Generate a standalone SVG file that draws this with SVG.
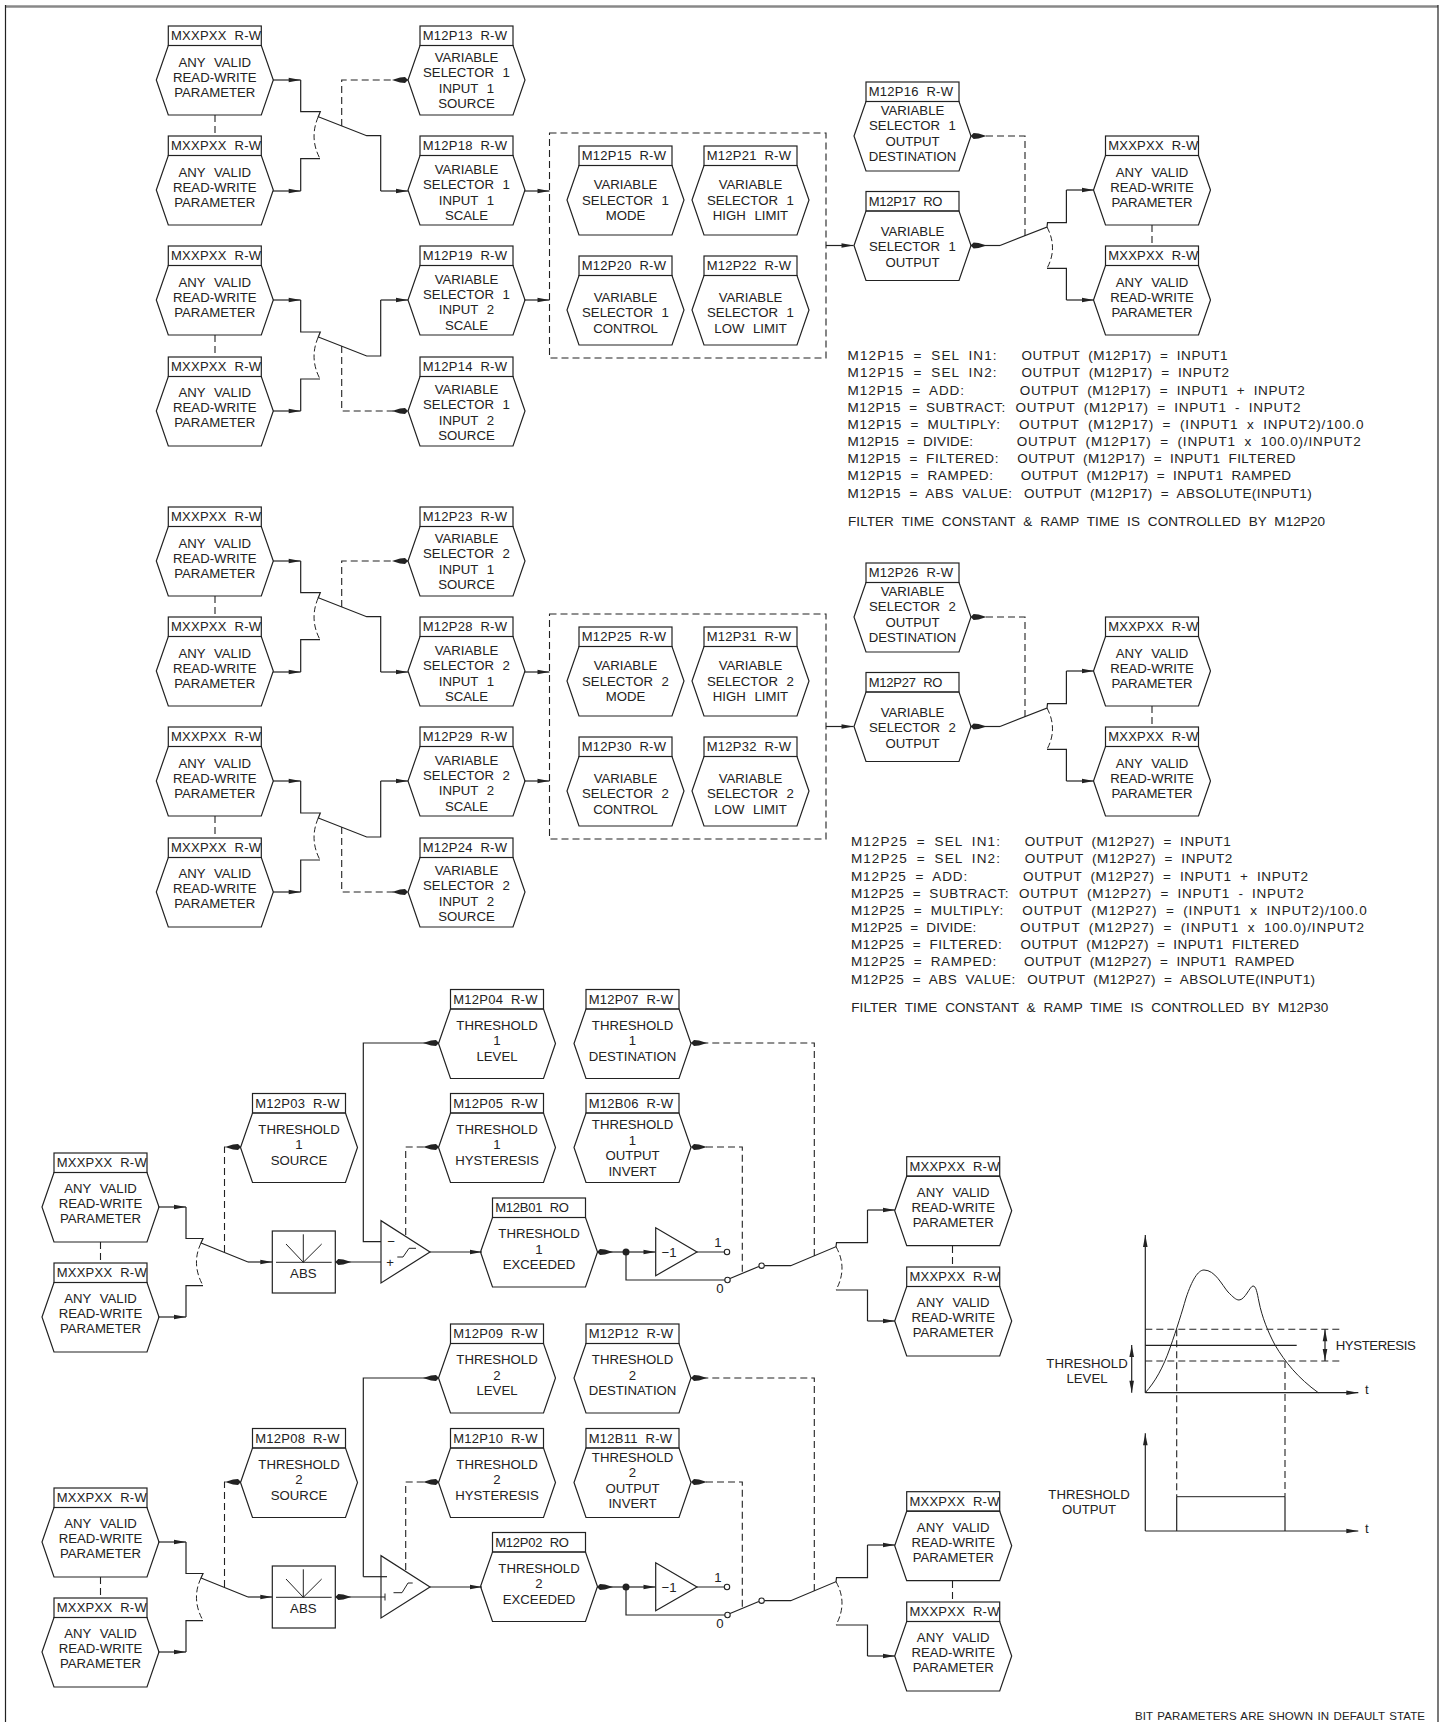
<svg xmlns="http://www.w3.org/2000/svg" width="1445" height="1722" viewBox="0 0 1445 1722">
<style>
text{font-family:"Liberation Sans",Arial,sans-serif;fill:#222}
.h{font-size:13px;letter-spacing:.25px;word-spacing:4px}
.b{font-size:13.2px;word-spacing:5px;text-anchor:middle}
.l{font-size:13.2px;word-spacing:4px}
.n{font-size:13.5px;word-spacing:4px}
.f{font-size:11.5px;word-spacing:1px}
.shape{fill:none;stroke:#222;stroke-width:1.2}
.s{fill:none;stroke:#222;stroke-width:1.2}
.d{fill:none;stroke:#222;stroke-width:1.1;stroke-dasharray:7 4}
.t{fill:none;stroke:#222;stroke-width:1}
.a{marker-end:url(#arr)}
.k{marker-end:url(#kite)}
.o{fill:#fff;stroke:#222;stroke-width:1.1}
</style>
<defs>
<marker id="arr" viewBox="-14 -4 15 8" refX="0" refY="0" markerWidth="15" markerHeight="8" markerUnits="userSpaceOnUse" orient="auto-start-reverse"><path d="M0,0L-12,-2.3L-12,2.3Z" fill="#222"/></marker>
<marker id="kite" viewBox="-17 -4 18 8" refX="0" refY="0" markerWidth="18" markerHeight="8" markerUnits="userSpaceOnUse" orient="auto"><path d="M0,0L-3,-3L-8,-2.6L-16,0L-8,2.6L-3,3Z" fill="#222"/></marker>
<g id="hex"><rect class="shape" x="0" y="0" width="93" height="19.5"/><path class="shape" d="M0,19.5H93L105,54L93,89H0L-12,54Z"/></g>
</defs>
<rect width="1445" height="1722" fill="#fff"/>
<g id="frame"><path d="M5,6.5H1438" fill="none" stroke="#888" stroke-width="2.5"/><path d="M5.5,5V1722M1438,5V1722" fill="none" stroke="#222" stroke-width="1.2"/></g>

<g id="connectors">
<g id="conn-vs1">
<path class="s a" d="M273,80H300.7"/><path class="s" d="M300.7,80V111.7H320.3L318.3,116.7L366.7,135.7H380.7V191"/><path class="s a" d="M380.7,191H408"/>
<path class="s a" d="M273,191H300.7"/><path class="s" d="M300.7,191V158.7H320"/><path class="t" stroke-dasharray="6 3" d="M318.3,116.7Q309,138 320,158.7"/>
<path class="s a" d="M273,300H300.7"/><path class="s" d="M300.7,300V332H320.3L318.3,337L366.7,356H380.7V300"/><path class="s a" d="M380.7,300H408"/>
<path class="s a" d="M273,411H300.7"/><path class="s" d="M300.7,411V379H320"/><path class="t" stroke-dasharray="6 3" d="M318.3,337Q309,358 320,379"/>
<path class="d k" d="M341.7,126V80H408"/><path class="d k" d="M341.7,346V411H408"/>
<path class="d" d="M215,115V136M215,335V357M1152,225V246"/>
<path class="s a" d="M524,191H549.5"/><path class="s a" d="M524,300H549.5"/>
<rect class="d" x="549.5" y="133" width="276.5" height="225"/>
<path class="s a" d="M826,245.5H853.5"/>
<path class="s k" d="M1000,245.5H970.6"/><path class="s" d="M1000,245.5L1047,227L1047.5,222.7H1066.4V190"/><path class="s a" d="M1066.4,190H1094"/>
<path class="s" d="M1047,268.3H1066.4V300"/><path class="s a" d="M1066.4,300H1094"/><path class="t" stroke-dasharray="6 3" d="M1047,227Q1058,248 1047,268.3"/>
<path class="d k" d="M1025,236V136H970.6"/>
</g>
<g id="conn-vs2" transform="translate(0,481)">
<path class="s a" d="M273,80H300.7"/><path class="s" d="M300.7,80V111.7H320.3L318.3,116.7L366.7,135.7H380.7V191"/><path class="s a" d="M380.7,191H408"/>
<path class="s a" d="M273,191H300.7"/><path class="s" d="M300.7,191V158.7H320"/><path class="t" stroke-dasharray="6 3" d="M318.3,116.7Q309,138 320,158.7"/>
<path class="s a" d="M273,300H300.7"/><path class="s" d="M300.7,300V332H320.3L318.3,337L366.7,356H380.7V300"/><path class="s a" d="M380.7,300H408"/>
<path class="s a" d="M273,411H300.7"/><path class="s" d="M300.7,411V379H320"/><path class="t" stroke-dasharray="6 3" d="M318.3,337Q309,358 320,379"/>
<path class="d k" d="M341.7,126V80H408"/><path class="d k" d="M341.7,346V411H408"/>
<path class="d" d="M215,115V136M215,335V357M1152,225V246"/>
<path class="s a" d="M524,191H549.5"/><path class="s a" d="M524,300H549.5"/>
<rect class="d" x="549.5" y="133" width="276.5" height="225"/>
<path class="s a" d="M826,245.5H853.5"/>
<path class="s k" d="M1000,245.5H970.6"/><path class="s" d="M1000,245.5L1047,227L1047.5,222.7H1066.4V190"/><path class="s a" d="M1066.4,190H1094"/>
<path class="s" d="M1047,268.3H1066.4V300"/><path class="s a" d="M1066.4,300H1094"/><path class="t" stroke-dasharray="6 3" d="M1047,227Q1058,248 1047,268.3"/>
<path class="d k" d="M1025,236V136H970.6"/>
</g>
<g id="conn-th1">
<path class="s a" d="M158,1207H186"/><path class="s" d="M186,1207V1238.5H203L201,1243L248,1262"/><path class="s a" d="M248,1262H272.3"/>
<path class="s a" d="M158,1317H186"/><path class="s" d="M186,1317V1285.6H203"/><path class="t" stroke-dasharray="6 3" d="M201,1243Q191,1264 203,1285.6"/>
<path class="d k" d="M224.5,1252V1147H241"/>
<path class="d" d="M100.5,1242V1263M952.5,1246V1267"/>
<path class="s k" d="M381,1262H335.3"/>
<path class="s k" d="M381,1241.7H363.3V1043H439"/>
<path class="d k" d="M405.7,1235V1147H439"/>
<path class="s a" d="M430,1252H482"/>
<path class="s k" d="M626,1252H597"/><path class="s a" d="M626,1252H655.5"/>
<path class="s" d="M626,1252V1280H725M697,1252H724.5M730,1278.5L758.8,1266.5"/>
<path class="s" d="M764.3,1265.7H790.7L836,1246.7L836.5,1242.7H867.5V1210"/><path class="s a" d="M867.5,1210H895"/>
<path class="s" d="M836,1290H867.5V1321"/><path class="s a" d="M867.5,1321H895"/><path class="t" stroke-dasharray="6 3" d="M836,1246.7Q848,1268 836,1290"/>
<path class="d k" d="M814.3,1256V1043H691"/><path class="d k" d="M742.3,1271.7V1147H691"/>
</g>
<g id="conn-th2">
<path class="s a" d="M158,1542H186"/><path class="s" d="M186,1542V1573.5H203L201,1578L248,1597"/><path class="s a" d="M248,1597H272.3"/>
<path class="s a" d="M158,1652H186"/><path class="s" d="M186,1652V1620.6H203"/><path class="t" stroke-dasharray="6 3" d="M201,1578Q191,1599 203,1620.6"/>
<path class="d k" d="M224.5,1587V1482H241"/>
<path class="d" d="M100.5,1577V1598M952.5,1581V1602"/>
<path class="s k" d="M385,1597H335.3"/><path class="t" d="M385,1593.5V1600.5"/>
<path class="s" d="M387,1576.7H363.3"/><path class="s k" d="M363.3,1576.7V1378H439"/>
<path class="d k" d="M405.7,1570V1482H439"/>
<path class="s a" d="M430,1587H482"/>
<path class="s k" d="M626,1587H597"/><path class="s a" d="M626,1587H655.5"/>
<path class="s" d="M626,1587V1615H725M697,1587H724.5M730,1613.5L758.8,1601.5"/>
<path class="s" d="M764.3,1600.7H790.7L836,1581.7L836.5,1577.7H867.5V1545"/><path class="s a" d="M867.5,1545H895"/>
<path class="s" d="M836,1625H867.5V1656"/><path class="s a" d="M867.5,1656H895"/><path class="t" stroke-dasharray="6 3" d="M836,1581.7Q848,1603 836,1625"/>
<path class="d k" d="M814.3,1591V1378H691"/><path class="d k" d="M742.3,1606.7V1482H691"/>
</g>
</g>

<g id="node-a1" transform="translate(168.3,26)"><use href="#hex"/><text class="h" x="2.7" y="14">MXXPXX R-W</text><text class="b" x="46.5" y="41">ANY VALID</text><text class="b" x="46.5" y="56">READ-WRITE</text><text class="b" x="46.5" y="71">PARAMETER</text></g>
<g id="node-a2" transform="translate(168.3,136)"><use href="#hex"/><text class="h" x="2.7" y="14">MXXPXX R-W</text><text class="b" x="46.5" y="41">ANY VALID</text><text class="b" x="46.5" y="56">READ-WRITE</text><text class="b" x="46.5" y="71">PARAMETER</text></g>
<g id="node-a3" transform="translate(168.3,246)"><use href="#hex"/><text class="h" x="2.7" y="14">MXXPXX R-W</text><text class="b" x="46.5" y="41">ANY VALID</text><text class="b" x="46.5" y="56">READ-WRITE</text><text class="b" x="46.5" y="71">PARAMETER</text></g>
<g id="node-a4" transform="translate(168.3,357)"><use href="#hex"/><text class="h" x="2.7" y="14">MXXPXX R-W</text><text class="b" x="46.5" y="40">ANY VALID</text><text class="b" x="46.5" y="55">READ-WRITE</text><text class="b" x="46.5" y="70">PARAMETER</text></g>
<g id="node-m12p13" transform="translate(420,26)"><use href="#hex"/><text class="h" x="2.7" y="14">M12P13 R-W</text><text class="b" x="46.5" y="35.7">VARIABLE</text><text class="b" x="46.5" y="51.3">SELECTOR 1</text><text class="b" x="46.5" y="66.7">INPUT 1</text><text class="b" x="46.5" y="82.3">SOURCE</text></g>
<g id="node-m12p18" transform="translate(420,136)"><use href="#hex"/><text class="h" x="2.7" y="14">M12P18 R-W</text><text class="b" x="46.5" y="38">VARIABLE</text><text class="b" x="46.5" y="53">SELECTOR 1</text><text class="b" x="46.5" y="68.5">INPUT 1</text><text class="b" x="46.5" y="83.7">SCALE</text></g>
<g id="node-m12p19" transform="translate(420,246)"><use href="#hex"/><text class="h" x="2.7" y="14">M12P19 R-W</text><text class="b" x="46.5" y="37.5">VARIABLE</text><text class="b" x="46.5" y="53">SELECTOR 1</text><text class="b" x="46.5" y="68">INPUT 2</text><text class="b" x="46.5" y="83.7">SCALE</text></g>
<g id="node-m12p14" transform="translate(420,357)"><use href="#hex"/><text class="h" x="2.7" y="14">M12P14 R-W</text><text class="b" x="46.5" y="37">VARIABLE</text><text class="b" x="46.5" y="52">SELECTOR 1</text><text class="b" x="46.5" y="67.5">INPUT 2</text><text class="b" x="46.5" y="82.7">SOURCE</text></g>
<g id="node-m12p15" transform="translate(579,146)"><use href="#hex"/><text class="h" x="2.7" y="14">M12P15 R-W</text><text class="b" x="46.5" y="43">VARIABLE</text><text class="b" x="46.5" y="59">SELECTOR 1</text><text class="b" x="46.5" y="74">MODE</text></g>
<g id="node-m12p21" transform="translate(704,146)"><use href="#hex"/><text class="h" x="2.7" y="14">M12P21 R-W</text><text class="b" x="46.5" y="43">VARIABLE</text><text class="b" x="46.5" y="59">SELECTOR 1</text><text class="b" x="46.5" y="74">HIGH LIMIT</text></g>
<g id="node-m12p20" transform="translate(579,256)"><use href="#hex"/><text class="h" x="2.7" y="14">M12P20 R-W</text><text class="b" x="46.5" y="46">VARIABLE</text><text class="b" x="46.5" y="61">SELECTOR 1</text><text class="b" x="46.5" y="77">CONTROL</text></g>
<g id="node-m12p22" transform="translate(704,256)"><use href="#hex"/><text class="h" x="2.7" y="14">M12P22 R-W</text><text class="b" x="46.5" y="46">VARIABLE</text><text class="b" x="46.5" y="61">SELECTOR 1</text><text class="b" x="46.5" y="77">LOW LIMIT</text></g>
<g id="node-m12p16" transform="translate(866,82)"><use href="#hex"/><text class="h" x="2.7" y="14">M12P16 R-W</text><text class="b" x="46.5" y="33">VARIABLE</text><text class="b" x="46.5" y="48">SELECTOR 1</text><text class="b" x="46.5" y="64">OUTPUT</text><text class="b" x="46.5" y="79">DESTINATION</text></g>
<g id="node-m12p17" transform="translate(866,191.5)"><use href="#hex"/><text class="h" x="2.7" y="14" textLength="74">M12P17 RO</text><text class="b" x="46.5" y="44.5">VARIABLE</text><text class="b" x="46.5" y="59.5">SELECTOR 1</text><text class="b" x="46.5" y="75">OUTPUT</text></g>
<g id="node-a5" transform="translate(1105.5,136)"><use href="#hex"/><text class="h" x="2.7" y="14">MXXPXX R-W</text><text class="b" x="46.5" y="41">ANY VALID</text><text class="b" x="46.5" y="56">READ-WRITE</text><text class="b" x="46.5" y="71">PARAMETER</text></g>
<g id="node-a6" transform="translate(1105.5,246)"><use href="#hex"/><text class="h" x="2.7" y="14">MXXPXX R-W</text><text class="b" x="46.5" y="41">ANY VALID</text><text class="b" x="46.5" y="56">READ-WRITE</text><text class="b" x="46.5" y="71">PARAMETER</text></g>

<g id="node-b1" transform="translate(168.3,507)"><use href="#hex"/><text class="h" x="2.7" y="14">MXXPXX R-W</text><text class="b" x="46.5" y="41">ANY VALID</text><text class="b" x="46.5" y="56">READ-WRITE</text><text class="b" x="46.5" y="71">PARAMETER</text></g>
<g id="node-b2" transform="translate(168.3,617)"><use href="#hex"/><text class="h" x="2.7" y="14">MXXPXX R-W</text><text class="b" x="46.5" y="41">ANY VALID</text><text class="b" x="46.5" y="56">READ-WRITE</text><text class="b" x="46.5" y="71">PARAMETER</text></g>
<g id="node-b3" transform="translate(168.3,727)"><use href="#hex"/><text class="h" x="2.7" y="14">MXXPXX R-W</text><text class="b" x="46.5" y="41">ANY VALID</text><text class="b" x="46.5" y="56">READ-WRITE</text><text class="b" x="46.5" y="71">PARAMETER</text></g>
<g id="node-b4" transform="translate(168.3,838)"><use href="#hex"/><text class="h" x="2.7" y="14">MXXPXX R-W</text><text class="b" x="46.5" y="40">ANY VALID</text><text class="b" x="46.5" y="55">READ-WRITE</text><text class="b" x="46.5" y="70">PARAMETER</text></g>
<g id="node-m12p23" transform="translate(420,507)"><use href="#hex"/><text class="h" x="2.7" y="14">M12P23 R-W</text><text class="b" x="46.5" y="35.7">VARIABLE</text><text class="b" x="46.5" y="51.3">SELECTOR 2</text><text class="b" x="46.5" y="66.7">INPUT 1</text><text class="b" x="46.5" y="82.3">SOURCE</text></g>
<g id="node-m12p28" transform="translate(420,617)"><use href="#hex"/><text class="h" x="2.7" y="14">M12P28 R-W</text><text class="b" x="46.5" y="38">VARIABLE</text><text class="b" x="46.5" y="53">SELECTOR 2</text><text class="b" x="46.5" y="68.5">INPUT 1</text><text class="b" x="46.5" y="83.7">SCALE</text></g>
<g id="node-m12p29" transform="translate(420,727)"><use href="#hex"/><text class="h" x="2.7" y="14">M12P29 R-W</text><text class="b" x="46.5" y="37.5">VARIABLE</text><text class="b" x="46.5" y="53">SELECTOR 2</text><text class="b" x="46.5" y="68">INPUT 2</text><text class="b" x="46.5" y="83.7">SCALE</text></g>
<g id="node-m12p24" transform="translate(420,838)"><use href="#hex"/><text class="h" x="2.7" y="14">M12P24 R-W</text><text class="b" x="46.5" y="37">VARIABLE</text><text class="b" x="46.5" y="52">SELECTOR 2</text><text class="b" x="46.5" y="67.5">INPUT 2</text><text class="b" x="46.5" y="82.7">SOURCE</text></g>
<g id="node-m12p25" transform="translate(579,627)"><use href="#hex"/><text class="h" x="2.7" y="14">M12P25 R-W</text><text class="b" x="46.5" y="43">VARIABLE</text><text class="b" x="46.5" y="59">SELECTOR 2</text><text class="b" x="46.5" y="74">MODE</text></g>
<g id="node-m12p31" transform="translate(704,627)"><use href="#hex"/><text class="h" x="2.7" y="14">M12P31 R-W</text><text class="b" x="46.5" y="43">VARIABLE</text><text class="b" x="46.5" y="59">SELECTOR 2</text><text class="b" x="46.5" y="74">HIGH LIMIT</text></g>
<g id="node-m12p30" transform="translate(579,737)"><use href="#hex"/><text class="h" x="2.7" y="14">M12P30 R-W</text><text class="b" x="46.5" y="46">VARIABLE</text><text class="b" x="46.5" y="61">SELECTOR 2</text><text class="b" x="46.5" y="77">CONTROL</text></g>
<g id="node-m12p32" transform="translate(704,737)"><use href="#hex"/><text class="h" x="2.7" y="14">M12P32 R-W</text><text class="b" x="46.5" y="46">VARIABLE</text><text class="b" x="46.5" y="61">SELECTOR 2</text><text class="b" x="46.5" y="77">LOW LIMIT</text></g>
<g id="node-m12p26" transform="translate(866,563)"><use href="#hex"/><text class="h" x="2.7" y="14">M12P26 R-W</text><text class="b" x="46.5" y="33">VARIABLE</text><text class="b" x="46.5" y="48">SELECTOR 2</text><text class="b" x="46.5" y="64">OUTPUT</text><text class="b" x="46.5" y="79">DESTINATION</text></g>
<g id="node-m12p27" transform="translate(866,672.5)"><use href="#hex"/><text class="h" x="2.7" y="14" textLength="74">M12P27 RO</text><text class="b" x="46.5" y="44.5">VARIABLE</text><text class="b" x="46.5" y="59.5">SELECTOR 2</text><text class="b" x="46.5" y="75">OUTPUT</text></g>
<g id="node-b5" transform="translate(1105.5,617)"><use href="#hex"/><text class="h" x="2.7" y="14">MXXPXX R-W</text><text class="b" x="46.5" y="41">ANY VALID</text><text class="b" x="46.5" y="56">READ-WRITE</text><text class="b" x="46.5" y="71">PARAMETER</text></g>
<g id="node-b6" transform="translate(1105.5,727)"><use href="#hex"/><text class="h" x="2.7" y="14">MXXPXX R-W</text><text class="b" x="46.5" y="41">ANY VALID</text><text class="b" x="46.5" y="56">READ-WRITE</text><text class="b" x="46.5" y="71">PARAMETER</text></g>

<g id="notes-vs1" transform="translate(0,-1)">
<text class="n" y="361"><tspan x="847.6" textLength="149">M12P15 = SEL IN1:</tspan><tspan x="1021.5" textLength="206">OUTPUT (M12P17) = INPUT1</tspan></text>
<text class="n" y="378.3"><tspan x="847.6" textLength="149">M12P15 = SEL IN2:</tspan><tspan x="1021.5" textLength="207.5">OUTPUT (M12P17) = INPUT2</tspan></text>
<text class="n" y="395.7"><tspan x="847.6" textLength="116.4">M12P15 = ADD:</tspan><tspan x="1019.8" textLength="285">OUTPUT (M12P17) = INPUT1 + INPUT2</tspan></text>
<text class="n" y="413"><tspan x="847.6" textLength="157.7">M12P15 = SUBTRACT:</tspan><tspan x="1015.6" textLength="284.8">OUTPUT (M12P17) = INPUT1 - INPUT2</tspan></text>
<text class="n" y="430.3"><tspan x="847.6" textLength="152.4">M12P15 = MULTIPLY:</tspan><tspan x="1019" textLength="344.4">OUTPUT (M12P17) = (INPUT1 x INPUT2)/100.0</tspan></text>
<text class="n" y="447.3"><tspan x="847.6" textLength="125.4">M12P15 = DIVIDE:</tspan><tspan x="1016.7" textLength="344">OUTPUT (M12P17) = (INPUT1 x 100.0)/INPUT2</tspan></text>
<text class="n" y="464.3"><tspan x="847.6" textLength="150.8">M12P15 = FILTERED:</tspan><tspan x="1017.3" textLength="278.3">OUTPUT (M12P17) = INPUT1 FILTERED</tspan></text>
<text class="n" y="481.3"><tspan x="847.6" textLength="145.4">M12P15 = RAMPED:</tspan><tspan x="1020.8" textLength="270.2">OUTPUT (M12P17) = INPUT1 RAMPED</tspan></text>
<text class="n" y="498.7"><tspan x="847.6" textLength="164.4">M12P15 = ABS VALUE:</tspan><tspan x="1024" textLength="287.8">OUTPUT (M12P17) = ABSOLUTE(INPUT1)</tspan></text>
<text class="n" x="848" y="527" textLength="477">FILTER TIME CONSTANT &amp; RAMP TIME IS CONTROLLED BY M12P20</text>
</g>
<g id="notes-vs2" transform="translate(3.3,485)">
<text class="n" y="361"><tspan x="847.6" textLength="149">M12P25 = SEL IN1:</tspan><tspan x="1021.5" textLength="206">OUTPUT (M12P27) = INPUT1</tspan></text>
<text class="n" y="378.3"><tspan x="847.6" textLength="149">M12P25 = SEL IN2:</tspan><tspan x="1021.5" textLength="207.5">OUTPUT (M12P27) = INPUT2</tspan></text>
<text class="n" y="395.7"><tspan x="847.6" textLength="116.4">M12P25 = ADD:</tspan><tspan x="1019.8" textLength="285">OUTPUT (M12P27) = INPUT1 + INPUT2</tspan></text>
<text class="n" y="413"><tspan x="847.6" textLength="157.7">M12P25 = SUBTRACT:</tspan><tspan x="1015.6" textLength="284.8">OUTPUT (M12P27) = INPUT1 - INPUT2</tspan></text>
<text class="n" y="430.3"><tspan x="847.6" textLength="152.4">M12P25 = MULTIPLY:</tspan><tspan x="1019" textLength="344.4">OUTPUT (M12P27) = (INPUT1 x INPUT2)/100.0</tspan></text>
<text class="n" y="447.3"><tspan x="847.6" textLength="125.4">M12P25 = DIVIDE:</tspan><tspan x="1016.7" textLength="344">OUTPUT (M12P27) = (INPUT1 x 100.0)/INPUT2</tspan></text>
<text class="n" y="464.3"><tspan x="847.6" textLength="150.8">M12P25 = FILTERED:</tspan><tspan x="1017.3" textLength="278.3">OUTPUT (M12P27) = INPUT1 FILTERED</tspan></text>
<text class="n" y="481.3"><tspan x="847.6" textLength="145.4">M12P25 = RAMPED:</tspan><tspan x="1020.8" textLength="270.2">OUTPUT (M12P27) = INPUT1 RAMPED</tspan></text>
<text class="n" y="498.7"><tspan x="847.6" textLength="164.4">M12P25 = ABS VALUE:</tspan><tspan x="1024" textLength="287.8">OUTPUT (M12P27) = ABSOLUTE(INPUT1)</tspan></text>
<text class="n" x="848" y="527" textLength="477">FILTER TIME CONSTANT &amp; RAMP TIME IS CONTROLLED BY M12P30</text>
</g>

<g id="node-c1" transform="translate(54,1153)"><use href="#hex"/><text class="h" x="2.7" y="14">MXXPXX R-W</text><text class="b" x="46.5" y="40">ANY VALID</text><text class="b" x="46.5" y="55">READ-WRITE</text><text class="b" x="46.5" y="70">PARAMETER</text></g>
<g id="node-c2" transform="translate(54,1263)"><use href="#hex"/><text class="h" x="2.7" y="14">MXXPXX R-W</text><text class="b" x="46.5" y="40">ANY VALID</text><text class="b" x="46.5" y="55">READ-WRITE</text><text class="b" x="46.5" y="70">PARAMETER</text></g>
<g id="node-m12p03" transform="translate(252.5,1093.5)"><use href="#hex"/><text class="h" x="2.7" y="14">M12P03 R-W</text><text class="b" x="46.5" y="40">THRESHOLD</text><text class="b" x="46.5" y="55.7">1</text><text class="b" x="46.5" y="71.3">SOURCE</text></g>
<g id="node-m12p04" transform="translate(450.5,989.5)"><use href="#hex"/><text class="h" x="2.7" y="14">M12P04 R-W</text><text class="b" x="46.5" y="40">THRESHOLD</text><text class="b" x="46.5" y="55.7">1</text><text class="b" x="46.5" y="71.3">LEVEL</text></g>
<g id="node-m12p05" transform="translate(450.5,1093.5)"><use href="#hex"/><text class="h" x="2.7" y="14">M12P05 R-W</text><text class="b" x="46.5" y="40">THRESHOLD</text><text class="b" x="46.5" y="55.7">1</text><text class="b" x="46.5" y="71.3">HYSTERESIS</text></g>
<g id="node-m12p07" transform="translate(586,989.5)"><use href="#hex"/><text class="h" x="2.7" y="14">M12P07 R-W</text><text class="b" x="46.5" y="40">THRESHOLD</text><text class="b" x="46.5" y="55.7">1</text><text class="b" x="46.5" y="71.3">DESTINATION</text></g>
<g id="node-m12b06" transform="translate(586,1093.5)"><use href="#hex"/><text class="h" x="2.7" y="14">M12B06 R-W</text><text class="b" x="46.5" y="35.8">THRESHOLD</text><text class="b" x="46.5" y="51.5">1</text><text class="b" x="46.5" y="66.5">OUTPUT</text><text class="b" x="46.5" y="82.2">INVERT</text></g>
<g id="node-m12b01" transform="translate(492.5,1198)"><use href="#hex"/><text class="h" x="2.7" y="14" textLength="74">M12B01 RO</text><text class="b" x="46.5" y="40">THRESHOLD</text><text class="b" x="46.5" y="55.7">1</text><text class="b" x="46.5" y="71.3">EXCEEDED</text></g>
<g id="node-c3" transform="translate(906.7,1156.7)"><use href="#hex"/><text class="h" x="2.7" y="14">MXXPXX R-W</text><text class="b" x="46.5" y="40">ANY VALID</text><text class="b" x="46.5" y="55">READ-WRITE</text><text class="b" x="46.5" y="70">PARAMETER</text></g>
<g id="node-c4" transform="translate(906.7,1267)"><use href="#hex"/><text class="h" x="2.7" y="14">MXXPXX R-W</text><text class="b" x="46.5" y="40">ANY VALID</text><text class="b" x="46.5" y="55">READ-WRITE</text><text class="b" x="46.5" y="70">PARAMETER</text></g>
<g id="node-abs1"><rect class="shape" x="272.3" y="1231" width="63" height="62"/><path class="t" d="M276,1262.3H331.7M303.3,1262.3V1234.3M303.3,1262.3L286,1244M303.3,1262.3L321.7,1244"/><text class="b" x="303.3" y="1278">ABS</text></g>
<g id="node-comp1"><path class="shape" d="M381,1220.7V1283L430,1252Z"/><text class="b" x="391" y="1246">−</text><text class="b" x="390" y="1267">+</text><path class="t" d="M397.3,1257H403L409,1248.3H416"/></g>
<g id="node-inv1"><path class="shape" d="M655.7,1227.7V1275.7L697,1252Z"/><text class="b" x="669" y="1257">−1</text><text class="b" x="718" y="1247">1</text><text class="b" x="720" y="1293">0</text></g>
<g id="node-sw1"><circle cx="626" cy="1252" r="3.5" fill="#222"/><circle class="o" cx="727" cy="1252" r="2.7"/><circle class="o" cx="727.5" cy="1280" r="2.7"/><circle class="o" cx="761.6" cy="1265.7" r="2.7"/></g>

<g id="node-c5" transform="translate(54,1488)"><use href="#hex"/><text class="h" x="2.7" y="14">MXXPXX R-W</text><text class="b" x="46.5" y="40">ANY VALID</text><text class="b" x="46.5" y="55">READ-WRITE</text><text class="b" x="46.5" y="70">PARAMETER</text></g>
<g id="node-c6" transform="translate(54,1598)"><use href="#hex"/><text class="h" x="2.7" y="14">MXXPXX R-W</text><text class="b" x="46.5" y="40">ANY VALID</text><text class="b" x="46.5" y="55">READ-WRITE</text><text class="b" x="46.5" y="70">PARAMETER</text></g>
<g id="node-m12p08" transform="translate(252.5,1428.5)"><use href="#hex"/><text class="h" x="2.7" y="14">M12P08 R-W</text><text class="b" x="46.5" y="40">THRESHOLD</text><text class="b" x="46.5" y="55.7">2</text><text class="b" x="46.5" y="71.3">SOURCE</text></g>
<g id="node-m12p09" transform="translate(450.5,1324)"><use href="#hex"/><text class="h" x="2.7" y="14">M12P09 R-W</text><text class="b" x="46.5" y="40">THRESHOLD</text><text class="b" x="46.5" y="55.7">2</text><text class="b" x="46.5" y="71.3">LEVEL</text></g>
<g id="node-m12p10" transform="translate(450.5,1428.5)"><use href="#hex"/><text class="h" x="2.7" y="14">M12P10 R-W</text><text class="b" x="46.5" y="40">THRESHOLD</text><text class="b" x="46.5" y="55.7">2</text><text class="b" x="46.5" y="71.3">HYSTERESIS</text></g>
<g id="node-m12p12" transform="translate(586,1324)"><use href="#hex"/><text class="h" x="2.7" y="14">M12P12 R-W</text><text class="b" x="46.5" y="40">THRESHOLD</text><text class="b" x="46.5" y="55.7">2</text><text class="b" x="46.5" y="71.3">DESTINATION</text></g>
<g id="node-m12b11" transform="translate(586,1428.5)"><use href="#hex"/><text class="h" x="2.7" y="14">M12B11 R-W</text><text class="b" x="46.5" y="33.2">THRESHOLD</text><text class="b" x="46.5" y="48.5">2</text><text class="b" x="46.5" y="64.2">OUTPUT</text><text class="b" x="46.5" y="79.2">INVERT</text></g>
<g id="node-m12p02" transform="translate(492.5,1532.5)"><use href="#hex"/><text class="h" x="2.7" y="14" textLength="74">M12P02 RO</text><text class="b" x="46.5" y="40">THRESHOLD</text><text class="b" x="46.5" y="55.7">2</text><text class="b" x="46.5" y="71.3">EXCEEDED</text></g>
<g id="node-c7" transform="translate(906.7,1491.7)"><use href="#hex"/><text class="h" x="2.7" y="14">MXXPXX R-W</text><text class="b" x="46.5" y="40">ANY VALID</text><text class="b" x="46.5" y="55">READ-WRITE</text><text class="b" x="46.5" y="70">PARAMETER</text></g>
<g id="node-c8" transform="translate(906.7,1602)"><use href="#hex"/><text class="h" x="2.7" y="14">MXXPXX R-W</text><text class="b" x="46.5" y="40">ANY VALID</text><text class="b" x="46.5" y="55">READ-WRITE</text><text class="b" x="46.5" y="70">PARAMETER</text></g>
<g id="node-abs2"><rect class="shape" x="272.3" y="1566" width="63" height="62"/><path class="t" d="M276,1597.3H331.7M303.3,1597.3V1569.3M303.3,1597.3L286,1579M303.3,1597.3L321.7,1579"/><text class="b" x="303.3" y="1613">ABS</text></g>
<g id="node-comp2"><path class="shape" d="M381,1555.7V1618L430,1587Z"/><path class="t" d="M393.5,1592.7H402L408,1583H412.7"/></g>
<g id="node-inv2"><path class="shape" d="M655.7,1562.7V1610.7L697,1587Z"/><text class="b" x="669" y="1592">−1</text><text class="b" x="718" y="1582">1</text><text class="b" x="720" y="1628">0</text></g>
<g id="node-sw2"><circle cx="626" cy="1587" r="3.5" fill="#222"/><circle class="o" cx="727" cy="1587" r="2.7"/><circle class="o" cx="727.5" cy="1615" r="2.7"/><circle class="o" cx="761.6" cy="1600.7" r="2.7"/></g>

<g id="graph">
<path class="s a" d="M1145.3,1392.7V1235"/><path class="s a" d="M1145.3,1392.7H1358.3"/>
<path class="s a" d="M1145.3,1531V1433.3"/><path class="s a" d="M1145.3,1531H1358.3"/>
<path class="t" d="M1145.3,1392.7C1155,1382 1163,1368 1170,1348C1177,1328 1182,1312 1186,1298C1192,1280 1198,1270 1204,1270C1215,1270 1222,1285 1228,1292C1233,1297 1236,1300 1239,1300C1245,1300 1250,1286 1253,1286C1256,1286 1257,1292 1259,1302C1262,1317 1268,1332 1275,1345C1285,1362 1298,1378 1318.3,1392.7"/>
<path class="d" d="M1145.3,1329.3H1343.3M1145.3,1361H1343.3"/>
<path class="s" d="M1145.3,1345.3H1296.7"/>
<path class="s a" style="marker-start:url(#arr)" d="M1325,1329.3V1361"/>
<path class="s a" style="marker-start:url(#arr)" d="M1131.7,1345V1392.7"/>
<path class="d" d="M1176.7,1329.3V1496.7M1285,1361V1496.7"/>
<path class="s" d="M1176.7,1496.7V1531M1285,1496.7V1531"/>
<path class="t" d="M1176.7,1496.7H1285"/>
<text class="l" x="1335.7" y="1350" textLength="80">HYSTERESIS</text>
<text class="b" x="1087" y="1367.7">THRESHOLD</text><text class="b" x="1087" y="1382.7">LEVEL</text>
<text class="b" x="1089" y="1499">THRESHOLD</text><text class="b" x="1089" y="1514">OUTPUT</text>
<text class="l" x="1365" y="1394">t</text><text class="l" x="1365" y="1533">t</text>
</g>
<text id="footnote" class="f" x="1135" y="1720" textLength="290">BIT PARAMETERS ARE SHOWN IN DEFAULT STATE</text>
</svg>
